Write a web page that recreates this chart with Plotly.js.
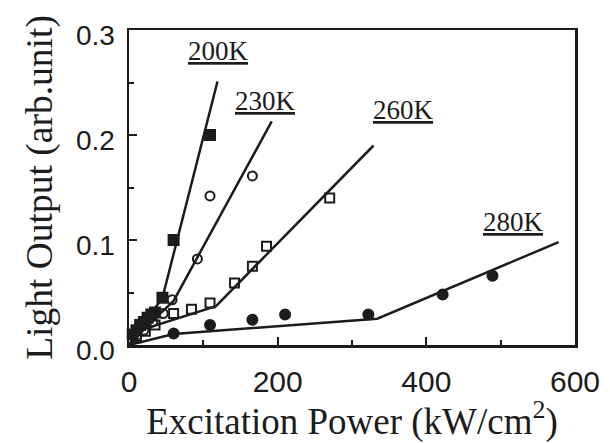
<!DOCTYPE html>
<html>
<head>
<meta charset="utf-8">
<script src="https://cdn.plot.ly/plotly-3.0.1.min.js"></script>
<style>html,body{margin:0;padding:0;background:#fff;}#chart{width:610px;height:443px;}</style>
</head>
<body>
<div id="chart"></div>
<script>
// Measured points (Excitation power kW/cm^2, light output arb. unit)
var x200 = [5, 10, 15, 20, 25, 30, 35, 45, 60, 109];
var y200 = [0.010, 0.014, 0.019, 0.022, 0.026, 0.029, 0.031, 0.045, 0.100, 0.200];
var x230 = [10, 20, 32, 46, 58, 92, 109, 166];
var y230 = [0.008, 0.014, 0.022, 0.030, 0.043, 0.082, 0.142, 0.161];
var x260 = [10, 22, 35, 60, 84, 109, 142, 166, 185, 270];
var y260 = [0.007, 0.013, 0.019, 0.030, 0.034, 0.040, 0.059, 0.075, 0.094, 0.140];
var x280 = [60, 109, 166, 210, 322, 422, 489];
var y280 = [0.011, 0.019, 0.024, 0.029, 0.029, 0.048, 0.066];

// Fitted guide lines (vertices)
var fx200 = [0, 45, 119];
var fy200 = [0, 0.045, 0.251];
var fx230 = [0, 30, 60, 192];
var fy230 = [0, 0.022, 0.042, 0.213];
var fx260 = [0, 15, 117, 329];
var fy260 = [0, 0.014, 0.037, 0.190];
var fx280 = [0, 60, 334, 578];
var fy280 = [0, 0.0105, 0.025, 0.098];

var labels = ['200K', '230K', '260K', '280K'];
var labelX = [120, 184, 369, 517];
var labelY = [0.280, 0.232, 0.224, 0.117];

var ink = '#1c1c1c';
var lineStyle = {color: ink, width: 2.5};

function fit(x, y) {
  return {x: x, y: y, mode: 'lines', line: lineStyle, hoverinfo: 'skip', showlegend: false};
}
function pts(x, y, sym, size) {
  return {
    x: x, y: y, mode: 'markers', showlegend: false, cliponaxis: false,
    marker: {symbol: sym, size: size, color: ink, line: {color: ink, width: 2}}
  };
}

var data = [
  fit(fx200, fy200), fit(fx230, fy230), fit(fx260, fy260), fit(fx280, fy280),
  pts(x200, y200, 'square', 10),
  pts(x230, y230, 'circle-open', 9),
  pts(x260, y260, 'square-open', 9),
  pts(x280, y280, 'circle', 10)
];

var annotations = labels.map(function (t, i) {
  return {
    x: labelX[i], y: labelY[i], xref: 'x', yref: 'y', text: '<u>' + t + '</u>',
    showarrow: false, font: {family: 'Liberation Serif, Times New Roman, serif', size: 27, color: ink}
  };
});

var layout = {
  width: 610, height: 443,
  margin: {l: 129, r: 35, t: 30, b: 98},
  paper_bgcolor: '#fff', plot_bgcolor: '#fff',
  showlegend: false,
  xaxis: {
    range: [0, 600], dtick: 200, tick0: 0,
    ticks: 'inside', ticklen: 8, tickwidth: 2, tickcolor: ink,
    minor: {dtick: 100, ticks: 'inside', ticklen: 5, tickwidth: 2, tickcolor: ink},
    showline: true, linewidth: 2.5, linecolor: ink, mirror: true,
    showgrid: false, zeroline: false,
    tickfont: {family: 'Liberation Sans, Arial, sans-serif', size: 30, color: ink},
    ticklabelstandoff: 8,
    title: {text: 'Excitation Power (kW/cm<sup>2</sup>)', standoff: 3,
            font: {family: 'Liberation Serif, Times New Roman, serif', size: 37, color: ink}}
  },
  yaxis: {
    range: [0, 0.3], dtick: 0.1, tick0: 0, tickformat: '.1f',
    ticks: 'inside', ticklen: 8, tickwidth: 2, tickcolor: ink,
    minor: {dtick: 0.05, ticks: 'inside', ticklen: 5, tickwidth: 2, tickcolor: ink},
    showline: true, linewidth: 2.5, linecolor: ink, mirror: true,
    showgrid: false, zeroline: false,
    tickfont: {family: 'Liberation Sans, Arial, sans-serif', size: 28, color: ink},
    ticklabelstandoff: 6, ticklabelshift: 5,
    title: {text: 'Light Output (arb.unit)', standoff: 12,
            font: {family: 'Liberation Serif, Times New Roman, serif', size: 37.5, color: ink}}
  },
  annotations: annotations
};

Plotly.newPlot('chart', data, layout, {staticPlot: true, displayModeBar: false});
</script>
</body>
</html>
